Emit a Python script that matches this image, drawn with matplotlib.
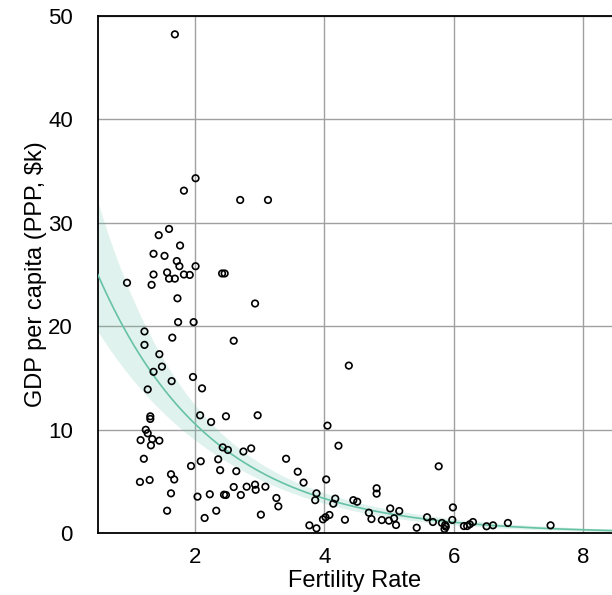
import matplotlib.pyplot as plt
import numpy as np

plt.rcParams['font.family'] = ['Liberation Sans', 'DejaVu Sans']

# total fertility rate (births per woman) and GDP per capita (PPP, thousands of $)
fertility = [
    1.69, 2.01, 1.83, 2.70, 3.13, 1.60, 1.44, 1.77, 1.36, 1.53,
    1.72, 1.76, 2.01, 1.36, 1.57, 1.60, 1.69, 1.83, 1.92, 2.42,
    2.46, 0.95, 1.33, 1.73, 1.74, 1.98, 1.22, 1.65, 2.93, 2.60,
    1.22, 1.45, 1.49, 1.36, 1.64, 1.97, 1.27, 2.11, 1.31, 1.31,
    2.08, 2.25, 2.48, 2.97, 4.38, 4.05, 1.24, 1.27, 1.16, 1.34,
    1.45, 1.32, 2.43, 2.51, 1.21, 2.09, 2.36, 1.94, 2.39, 1.63,
    1.68, 1.15, 1.30, 1.63, 2.04, 2.23, 2.45, 2.48, 1.57, 2.33,
    2.15, 4.22, 2.75, 2.87, 2.64, 3.41, 3.59, 3.68, 4.03, 2.60,
    2.71, 2.80, 2.93, 2.94, 3.09, 3.26, 3.29, 3.02, 3.88, 3.86,
    4.17, 4.14, 3.77, 3.88, 3.98, 4.02, 4.08, 4.32, 5.77, 4.81,
    4.81, 4.45, 4.51, 4.69, 4.73, 4.89, 5.02, 5.16, 5.00, 5.08,
    5.11, 5.43, 5.59, 5.68, 5.82, 5.87, 5.86, 5.88, 5.99, 5.98,
    6.16, 6.21, 6.25, 6.30, 6.51, 6.61, 6.84, 7.50,
]
gdp = [
    48.2, 34.3, 33.1, 32.2, 32.2, 29.4, 28.8, 27.8, 27.0, 26.8,
    26.3, 25.8, 25.8, 25.0, 25.2, 24.6, 24.6, 25.0, 24.96, 25.1,
    25.1, 24.2, 24.0, 22.7, 20.4, 20.4, 19.5, 18.9, 22.2, 18.6,
    18.2, 17.3, 16.1, 15.6, 14.7, 15.1, 13.9, 14.0, 11.3, 11.05,
    11.4, 10.75, 11.3, 11.4, 16.2, 10.4, 10.0, 9.66, 9.0, 9.1,
    8.95, 8.5, 8.3, 8.05, 7.2, 6.96, 7.15, 6.5, 6.1, 5.7,
    5.2, 4.96, 5.15, 3.86, 3.54, 3.77, 3.73, 3.7, 2.18, 2.18,
    1.48, 8.46, 7.9, 8.2, 6.0, 7.2, 5.95, 4.9, 5.2, 4.47,
    3.7, 4.5, 4.7, 4.2, 4.5, 3.41, 2.6, 1.8, 3.86, 3.2,
    3.35, 2.86, 0.77, 0.48, 1.35, 1.55, 1.77, 1.31, 6.47, 4.35,
    3.83, 3.2, 3.05, 1.99, 1.38, 1.28, 2.4, 2.15, 1.22, 1.45,
    0.8, 0.54, 1.55, 1.09, 1.0, 0.8, 0.42, 0.64, 2.5, 1.29,
    0.7, 0.7, 0.87, 1.09, 0.68, 0.77, 1.0, 0.77,
]

x = np.array(fertility)
y = np.array(gdp)

# exponential fit: linear regression of log(gdp) on fertility, with 95% band
n = len(x)
slope, intercept = np.polyfit(x, np.log(y), 1)
resid = np.log(y) - (intercept + slope * x)
s = np.sqrt(np.sum(resid ** 2) / (n - 2))
sxx = np.sum((x - x.mean()) ** 2)
xs = np.linspace(0.5, 8.45, 300)
pred = intercept + slope * xs
se = s * np.sqrt(1.0 / n + (xs - x.mean()) ** 2 / sxx)
lo = np.exp(pred - 1.98 * se)
hi = np.exp(pred + 1.98 * se)

fig = plt.figure(figsize=(6.12, 5.95), dpi=100)
ax = fig.add_axes([0.160, 0.1037, 0.840, 0.8699])

fit_color = '#66c2a5'
ax.fill_between(xs, lo, hi, color=fit_color, alpha=0.2, linewidth=0, zorder=2)
ax.plot(xs, np.exp(pred), color=fit_color, linewidth=1.2, zorder=3)
ax.scatter(x, y, s=22, facecolors='none', edgecolors='black', linewidths=1.2, zorder=4)

ax.set_xlim(0.5, 8.45)
ax.set_ylim(0, 50)
ax.set_xticks([2, 4, 6, 8])
ax.set_yticks([0, 10, 20, 30, 40, 50])
ax.grid(True, color='#a0a0a0', linewidth=1.0, zorder=0)
ax.set_axisbelow(True)
ax.tick_params(axis='both', length=0, labelsize=16)
ax.tick_params(axis='y', pad=18)
ax.tick_params(axis='x', pad=10)
for side in ['left', 'top', 'bottom']:
    ax.spines[side].set_linewidth(1.3)
ax.spines['right'].set_visible(False)

ax.set_xlabel('Fertility Rate', fontsize=17, labelpad=1)
ax.set_ylabel('GDP per capita (PPP, $k)', fontsize=17, labelpad=1)

fig.savefig('out.png', dpi=100)
